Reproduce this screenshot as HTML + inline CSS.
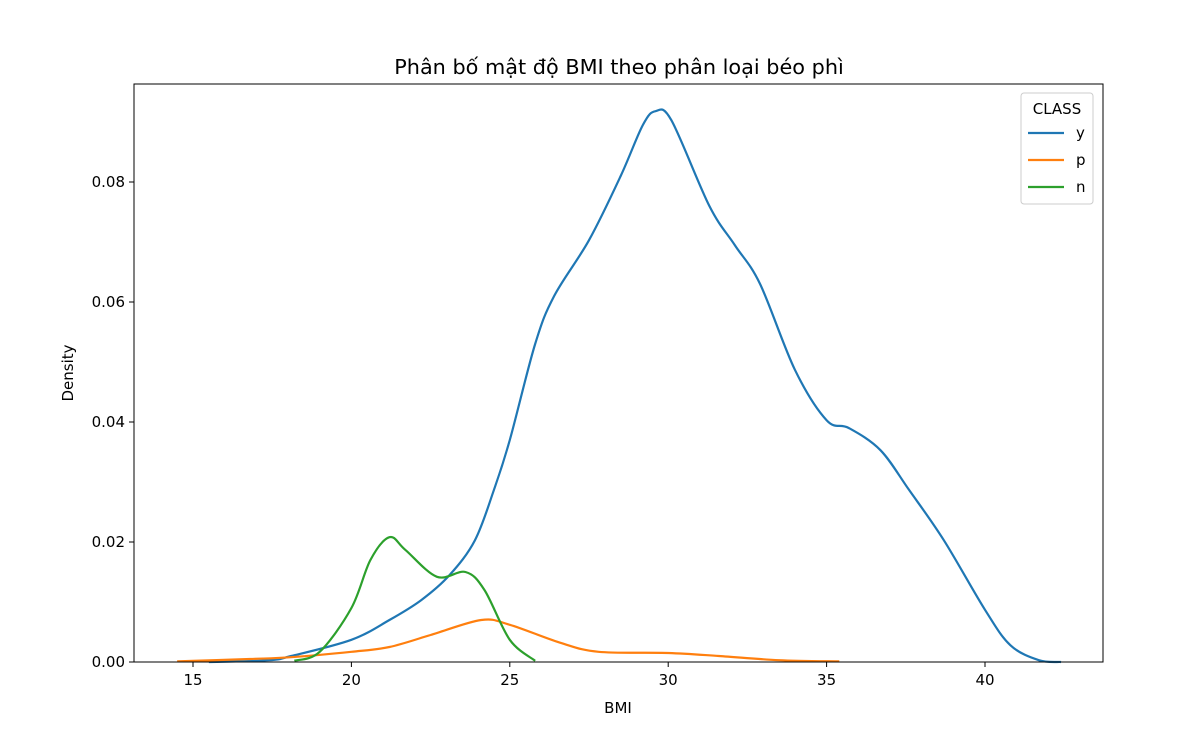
<!DOCTYPE html>
<html><head><meta charset="utf-8"><style>
body{margin:0;background:#fff;font-family:"Liberation Sans","DejaVu Sans",sans-serif;}
svg text{font-family:"DejaVu Sans","Liberation Sans",sans-serif;}
</style></head><body>
<svg id="chart" width="1182" height="737" xmlns="http://www.w3.org/2000/svg"></svg>
<script>
const xTicks=[15,20,25,30,35,40];
const yTicks=[0,0.02,0.04,0.06,0.08];
const yTickLabels=["0.00","0.02","0.04","0.06","0.08"];
const seriesNames=["y","p","n"];
const yX=[15.5,17.4,18.1,20,21.2,22.2,23.1,23.9,24.5,25,25.8,26.4,27.5,28.5,29.2,29.6,30.1,31.3,32.1,32.9,34,35,35.7,36.7,37.6,38.7,40,40.8,41.7,42.4];
const yD=[0,0.0003,0.001,0.0037,0.007,0.0103,0.0145,0.0203,0.0287,0.037,0.053,0.061,0.0703,0.081,0.0895,0.0918,0.0903,0.076,0.0695,0.063,0.0487,0.0403,0.039,0.0353,0.0287,0.0203,0.0087,0.0028,0.0003,0];
const pX=[14.5,16.8,18.1,20,21.2,22.5,24.1,25,26.6,27.8,30,31.6,33.5,35.4];
const pD=[0.0001,0.0005,0.0008,0.0017,0.0025,0.0045,0.007,0.0062,0.0032,0.0017,0.0015,0.001,0.0003,0.0001];
const nX=[18.2,19,20,20.6,21.2,21.7,22.7,23.6,24.2,25,25.8];
const nD=[0.0002,0.0017,0.009,0.017,0.0208,0.0187,0.0142,0.015,0.012,0.0037,0.0002];
const colors=["#1f77b4","#ff7f0e","#2ca02c"];
const L=134,R=1103,T=84,B=662;
const sx=v=>193+(v-15)*31.68;
const sy=v=>662-v*6000;
const svg=document.getElementById('chart');
const NS="http://www.w3.org/2000/svg";
function mk(tag,attrs,parent){const e=document.createElementNS(NS,tag);for(const k in attrs)e.setAttribute(k,attrs[k]);(parent||svg).appendChild(e);return e;}
function txt(s,attrs,name){const e=mk('text',attrs);e.textContent=s;return e;}
function path(xs,ds){const p=xs.map((x,i)=>[sx(x),sy(ds[i])]);let d=`M${p[0][0]},${p[0][1]}`;for(let i=0;i<p.length-1;i++){const p0=p[i-1]||p[i],p1=p[i],p2=p[i+1],p3=p[i+2]||p2;const c1=[p1[0]+(p2[0]-p0[0])/6,p1[1]+(p2[1]-p0[1])/6],c2=[p2[0]-(p3[0]-p1[0])/6,p2[1]-(p3[1]-p1[1])/6];d+=`C${c1[0]},${c1[1]} ${c2[0]},${c2[1]} ${p2[0]},${p2[1]}`;}return d;}
txt("Phân bố mật độ BMI theo phân loại béo phì",{x:619,y:74,'font-size':20.8,'text-anchor':'middle'},'chart-title');
xTicks.forEach(v=>{const l=mk('line',{x1:sx(v),x2:sx(v),y1:B,y2:B+5,stroke:'#000'});txt(String(v),{x:sx(v),y:B+23,'font-size':15,'text-anchor':'middle'},'x-tick-label');});
yTicks.forEach((v,i)=>{const l=mk('line',{x1:L-5,x2:L,y1:sy(v),y2:sy(v),stroke:'#000'});txt(yTickLabels[i],{x:L-9,y:sy(v)+5,'font-size':15,'text-anchor':'end'},'y-tick-label');});
txt("BMI",{x:618,y:713,'font-size':15,'text-anchor':'middle'},'x-axis-title');
txt("Density",{x:73,y:373,'font-size':15,'text-anchor':'middle',transform:'rotate(-90 73 373)'},'y-axis-title');
[[yX,yD],[pX,pD],[nX,nD]].forEach((s,i)=>{const e=mk('path',{d:path(s[0],s[1]),fill:'none',stroke:colors[i],'stroke-width':2.2});});
const frame=mk('rect',{x:L,y:T,width:R-L,height:B-T,fill:'none',stroke:'#000','stroke-width':1});

const lg=mk('rect',{x:1021,y:93,width:72,height:111,rx:3,fill:'#fff',stroke:'#ccc'});

txt("CLASS",{x:1057,y:114,'font-size':15,'text-anchor':'middle'},'legend-title');
seriesNames.forEach((n,i)=>{const y=133+i*27;const l=mk('line',{x1:1028,x2:1064,y1:y,y2:y,stroke:colors[i],'stroke-width':2.2});txt(n,{x:1076,y:y+5,'font-size':15},'legend-entry-'+n);});
</script>
</body></html>
